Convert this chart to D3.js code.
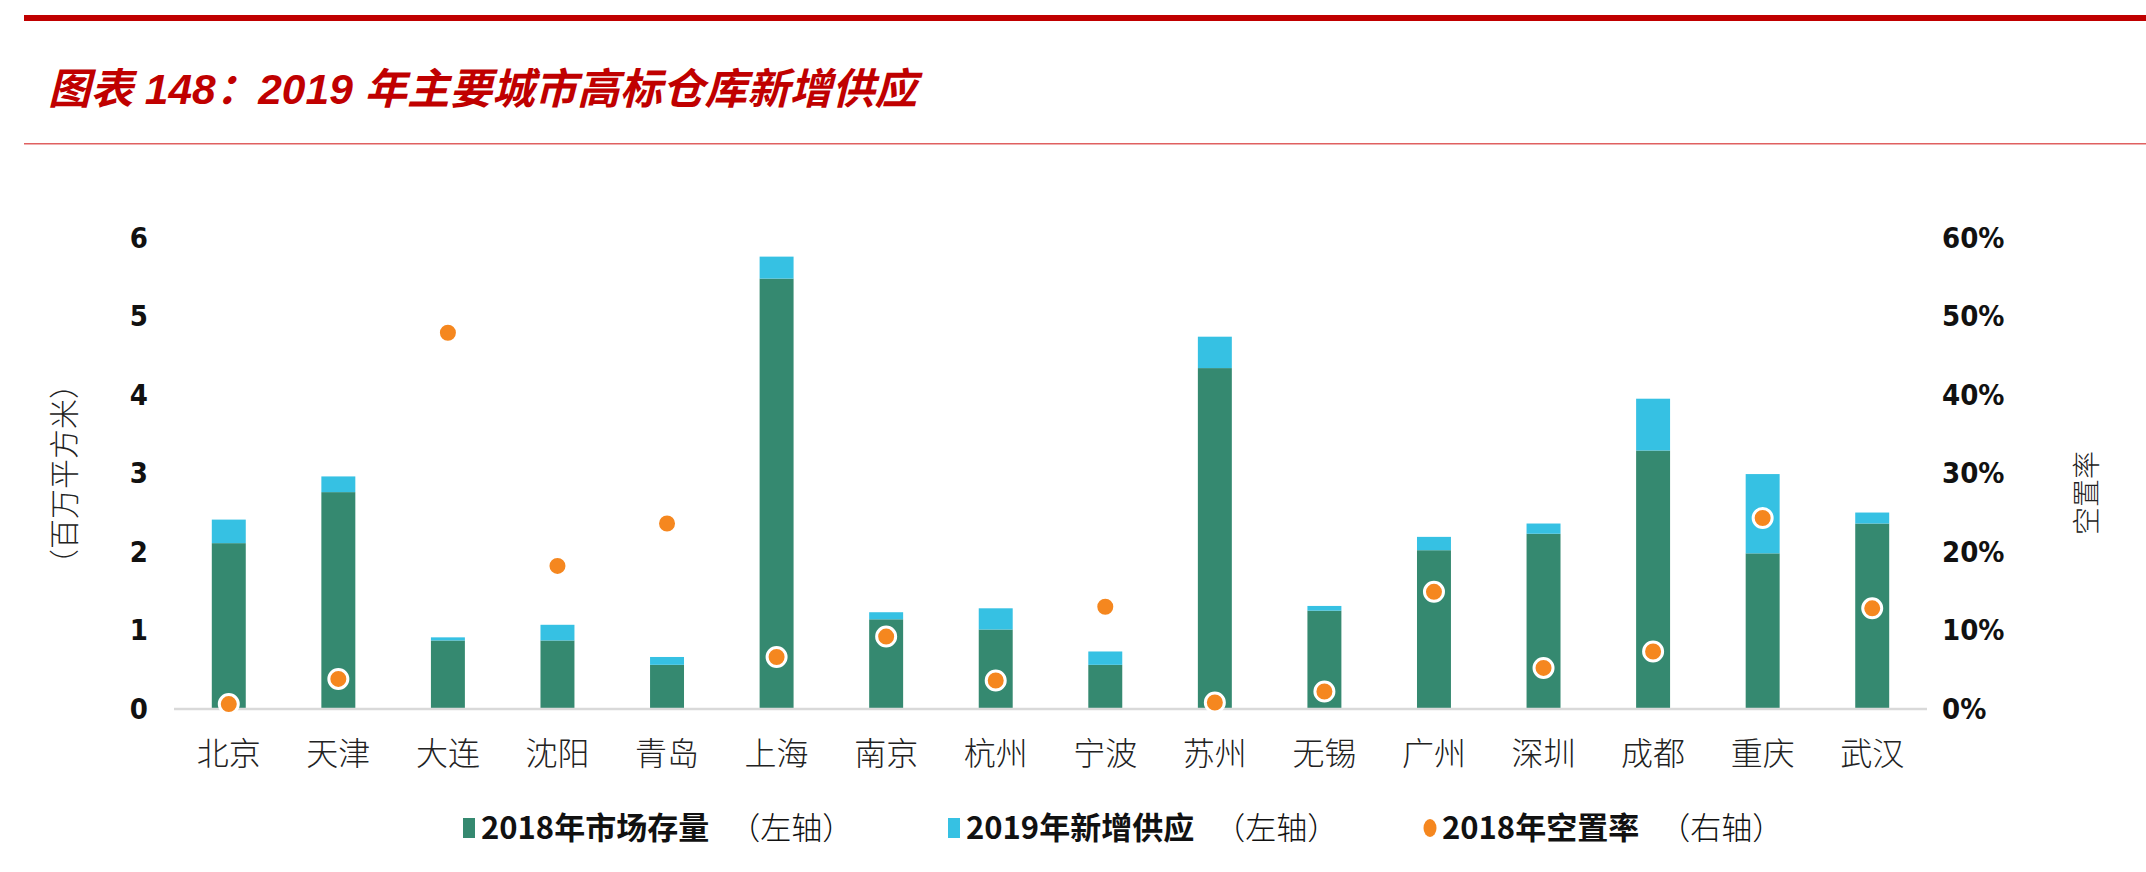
<!DOCTYPE html>
<meta charset="utf-8">
<script src="https://d3js.org/d3.v7.min.js"></script>
<style>
  body { margin: 0; background: #fff; }
  svg { display: block; }
  .tick-l, .tick-r { font-family: "DejaVu Sans Condensed", "Liberation Sans", sans-serif; font-weight: bold; font-size: 29px; fill: #111; }
  .cjk { font-family: "Noto Sans CJK SC", sans-serif; }
</style>
<div id="chart"></div>
<script>
  // data
  const cities = ["北京", "天津", "大连", "沈阳", "青岛", "上海", "南京", "杭州", "宁波", "苏州", "无锡", "广州", "深圳", "成都", "重庆", "武汉"];
  const stock2018 = [2.10, 2.75, 0.86, 0.86, 0.55, 5.47, 1.13, 1.00, 0.55, 4.33, 1.24, 2.01, 2.22, 3.28, 1.97, 2.35];
  const supply2019 = [0.30, 0.20, 0.04, 0.20, 0.10, 0.28, 0.09, 0.27, 0.17, 0.40, 0.06, 0.17, 0.13, 0.66, 1.01, 0.14];
  const vacancy2018 = [0.005, 0.037, 0.478, 0.181, 0.235, 0.065, 0.091, 0.035, 0.129, 0.007, 0.021, 0.148, 0.051, 0.072, 0.242, 0.127];
  const leftTicks = [0, 1, 2, 3, 4, 5, 6];
  const rightTicks = [0, 0.1, 0.2, 0.3, 0.4, 0.5, 0.6];

  const W = 2146, H = 872;
  const green = "#358970", blue = "#36c1e3", orange = "#f5871f", red = "#c00000";

  const svg = d3.select("#chart").append("svg")
    .attr("width", W).attr("height", H);

  // header rules and title
  svg.append("rect").attr("x", 24).attr("y", 15).attr("width", W - 24).attr("height", 6).attr("fill", red);
  svg.append("rect").attr("x", 24).attr("y", 143).attr("width", W - 24).attr("height", 1.5).attr("fill", "#e06060");
  svg.append("text")
    .attr("x", 48).attr("y", 104)
    .attr("fill", red)
    .style("font-family", "'Liberation Sans', 'Noto Sans CJK SC', sans-serif")
    .style("font-size", "42.5px").style("font-weight", "bold").style("font-style", "italic")
    .text("图表 148：2019 年主要城市高标仓库新增供应");

  // scales
  const x = d3.scaleBand().domain(cities).range([174, 1927]).paddingInner(0.69).paddingOuter(0.345);
  const yL = d3.scaleLinear().domain([0, 6]).range([708, 237]);
  const yR = d3.scaleLinear().domain([0, 0.6]).range([708, 237]);

  // stacked data
  const rows = cities.map((c, i) => ({ city: c, stock: stock2018[i], supply: supply2019[i], vac: vacancy2018[i] }));
  const stack = d3.stack().keys(["stock", "supply"])(rows);
  const colors = { stock: green, supply: blue };

  svg.append("g").selectAll("g")
    .data(stack).join("g")
    .attr("fill", d => colors[d.key])
    .selectAll("rect")
    .data(d => d).join("rect")
    .attr("x", d => x(d.data.city))
    .attr("width", x.bandwidth())
    .attr("y", d => yL(d[1]))
    .attr("height", d => yL(d[0]) - yL(d[1]));

  // baseline
  svg.append("line")
    .attr("x1", 174).attr("x2", 1927)
    .attr("y1", yL(0) + 1).attr("y2", yL(0) + 1)
    .attr("stroke", "#d9d9d9").attr("stroke-width", 2.5);

  // vacancy dots
  svg.append("g").selectAll("circle")
    .data(rows).join("circle")
    .attr("cx", d => x(d.city) + x.bandwidth() / 2)
    .attr("cy", d => yR(d.vac))
    .attr("r", 9.5)
    .attr("fill", orange)
    .attr("stroke", "#fff").attr("stroke-width", 3);

  // left axis
  const axL = svg.append("g").attr("transform", "translate(148,0)")
    .call(d3.axisLeft(yL).tickValues(leftTicks).tickSize(0).tickPadding(0).tickFormat(d3.format("d")));
  axL.select(".domain").remove();
  axL.selectAll("text").attr("class", "tick-l").attr("dy", "0.36em");

  // right axis
  const axR = svg.append("g").attr("transform", "translate(1942,0)")
    .call(d3.axisRight(yR).tickValues(rightTicks).tickSize(0).tickPadding(0).tickFormat(d3.format(".0%")));
  axR.select(".domain").remove();
  axR.selectAll("text").attr("class", "tick-r").attr("dy", "0.36em");

  // x axis labels
  const axX = svg.append("g").attr("transform", `translate(0,${yL(0)})`)
    .call(d3.axisBottom(x).tickSize(0).tickPadding(34));
  axX.select(".domain").remove();
  axX.selectAll("text").attr("class", "cjk").style("font-size", "32px").style("font-weight", 300).attr("fill", "#222");

  // axis titles
  svg.append("text").attr("class", "cjk")
    .attr("transform", "translate(64,474) rotate(-90)")
    .attr("text-anchor", "middle").attr("dy", "0.35em")
    .style("font-size", "30px").style("font-weight", 300).attr("fill", "#222")
    .text("（百万平方米）");
  svg.append("text").attr("class", "cjk")
    .attr("transform", "translate(2087,493) rotate(-90)")
    .attr("text-anchor", "middle").attr("dy", "0.35em")
    .style("font-size", "28px").style("font-weight", 300).attr("fill", "#222")
    .text("空置率");

  // legend
  const legend = [
    { x: 469, name: "2018年市场存量", axis: "（左轴）", shape: "rect", color: green },
    { x: 954, name: "2019年新增供应", axis: "（左轴）", shape: "rect", color: blue },
    { x: 1430, name: "2018年空置率", axis: "（右轴）", shape: "circle", color: orange }
  ];
  const ly = 828;
  const lg = svg.append("g").selectAll("g").data(legend).join("g")
    .attr("transform", d => `translate(${d.x},${ly})`);
  lg.filter(d => d.shape === "rect").append("rect")
    .attr("x", -6).attr("y", -10).attr("width", 12).attr("height", 20).attr("fill", d => d.color);
  lg.filter(d => d.shape === "circle").append("ellipse")
    .attr("cx", 0).attr("cy", 0).attr("rx", 6.5).attr("ry", 9).attr("fill", d => d.color);
  const lt = lg.append("text").attr("class", "cjk")
    .attr("x", 12).attr("dy", "0.35em")
    .style("font-size", "31px").attr("fill", "#111");
  lt.append("tspan").style("font-weight", "bold").text(d => d.name);
  lt.append("tspan").attr("dx", 20).style("font-weight", 300).text(d => d.axis);
</script>
